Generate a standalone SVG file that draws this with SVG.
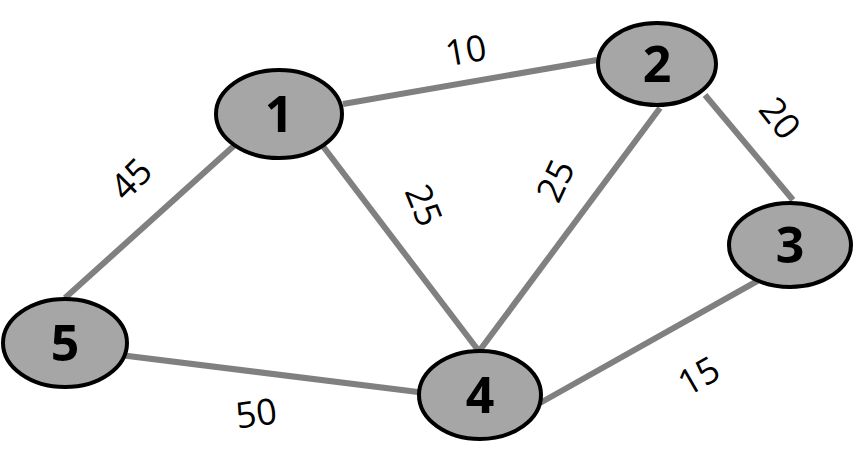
<svg xmlns="http://www.w3.org/2000/svg" width="854" height="472" viewBox="0 0 854 472">
<style>
.n{fill:#a6a6a6;stroke:#000;stroke-width:4}
.t{font-family:"Open Sans","Liberation Sans",sans-serif;font-weight:bold;font-size:50px;text-anchor:middle;fill:#000}
.e{stroke:#808080;stroke-width:6;fill:none}
.l{font-family:"Open Sans","Liberation Sans",sans-serif;font-size:36px;text-anchor:middle;fill:#000}
</style>
<rect width="854" height="472" fill="#fff"/>
<g id="edges">
<line class="e" x1="343" y1="104" x2="597" y2="60"/>
<line class="e" x1="705" y1="95" x2="793" y2="200"/>
<line class="e" x1="322" y1="145" x2="478" y2="350"/>
<line class="e" x1="660" y1="108" x2="480" y2="350"/>
<line class="e" x1="237" y1="143" x2="65" y2="298"/>
<line class="e" x1="120" y1="355" x2="418" y2="392"/>
<line class="e" x1="540" y1="403" x2="768" y2="275"/>
<text class="l" transform="translate(468,63) rotate(-10)">10</text>
<text class="l" transform="translate(770,126) rotate(52)">20</text>
<text class="l" transform="translate(412,210) rotate(68)">25</text>
<text class="l" transform="translate(567,186) rotate(-65)">25</text>
<text class="l" transform="translate(140,188) rotate(-45)">45</text>
<text class="l" transform="translate(258,426) rotate(-8)">50</text>
<text class="l" transform="translate(705,387) rotate(-30)">15</text>
</g>
<g id="n1"><ellipse class="n" cx="279" cy="114" rx="63" ry="44"/><text class="t" x="279" y="132">1</text></g>
<g id="n2"><ellipse class="n" cx="657" cy="64" rx="59" ry="41"/><text class="t" x="657" y="82">2</text></g>
<g id="n3"><ellipse class="n" cx="790" cy="245" rx="61" ry="42"/><text class="t" x="790" y="263">3</text></g>
<g id="n4"><ellipse class="n" cx="480" cy="395" rx="61" ry="44"/><text class="t" x="480" y="413">4</text></g>
<g id="n5"><ellipse class="n" cx="65" cy="343" rx="62" ry="44"/><text class="t" x="65" y="361">5</text></g>
</svg>
